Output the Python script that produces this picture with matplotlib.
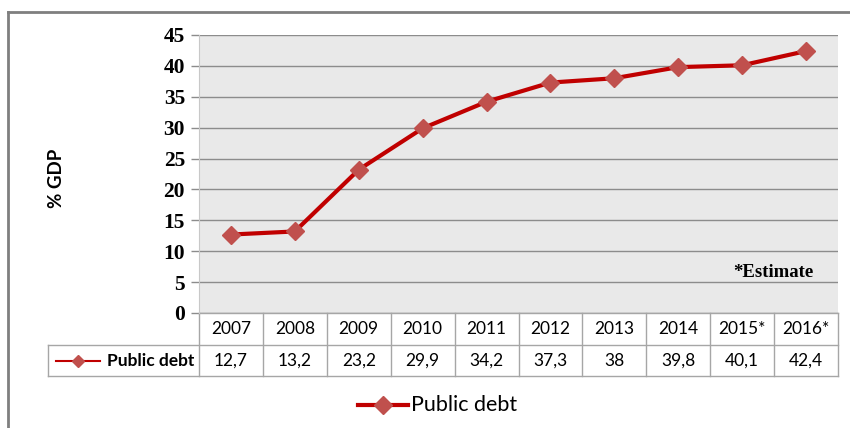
import matplotlib
matplotlib.use("Agg")
import matplotlib.pyplot as plt
from matplotlib.lines import Line2D
from matplotlib.transforms import blended_transform_factory

years = ["2007", "2008", "2009", "2010", "2011", "2012", "2013", "2014", "2015*", "2016*"]
public_debt = [12.7, 13.2, 23.2, 29.9, 34.2, 37.3, 38, 39.8, 40.1, 42.4]
series_name = "Public debt"
y_ticks = [0, 5, 10, 15, 20, 25, 30, 35, 40, 45]

LINE_C = "#C00000"
MARK_C = "#C0504D"
GRID_C = "#8C8C8C"
TABLE_C = "#A6A6A6"
SANS = ["Lato", "DejaVu Sans"]
SERIF = ["Liberation Serif", "DejaVu Serif"]

W, H = 850, 428
fig = plt.figure(figsize=(W / 100, H / 100), dpi=100)
fig.patch.set_facecolor("white")

L, R, T, B = 199, 838, 35, 313
ax = fig.add_axes([L / W, 1 - B / H, (R - L) / W, (B - T) / H])
ax.set_facecolor("#E9E9E9")
x = list(range(len(years)))
ax.set_xlim(-0.5, len(years) - 0.5)
ax.set_ylim(0, 45)
ax.set_yticks(y_ticks)
ax.set_yticklabels([str(v) for v in y_ticks], fontfamily=SERIF, fontweight="bold", fontsize=15.5)
ax.tick_params(axis="y", length=6, width=1, color=GRID_C, pad=4)
ax.set_xticks([])
for s in ["top", "right", "bottom"]:
    ax.spines[s].set_visible(False)
ax.spines["left"].set_color("#C8C8C8")
ax.grid(axis="y", color=GRID_C, linewidth=1)
ax.set_axisbelow(True)

ax.plot(x, public_debt, color=LINE_C, linewidth=3, marker="D", markersize=9,
        markerfacecolor=MARK_C, markeredgecolor=MARK_C, zorder=5, clip_on=False)

ax.text(0.961, 0.145, "*Estimate", transform=ax.transAxes, ha="right", va="center",
        fontfamily=SERIF, fontweight="bold", fontsize=13.5)

ax.set_ylabel("% GDP", fontfamily=SANS, fontweight="bold", fontsize=13.5)
ax.yaxis.set_label_coords((65 - L) / (R - L), 0.486)

# data table below the axes
tr = blended_transform_factory(ax.transData, ax.transAxes)
ph = B - T
r1 = -(345 - B) / ph
r2 = -(376 - B) / ph
colw = (R - L) / len(years)
xl = -0.5 - (L - 48) / colw
n = len(years)
kw = dict(transform=tr, color=TABLE_C, linewidth=1, clip_on=False)
ax.add_line(Line2D([xl, n - 0.5], [r1, r1], **kw))
ax.add_line(Line2D([xl, n - 0.5], [r2, r2], **kw))
ax.add_line(Line2D([-0.5, n - 0.5], [0, 0], **kw))
ax.add_line(Line2D([xl, xl], [r1, r2], **kw))
for i in range(n + 1):
    ax.add_line(Line2D([i - 0.5, i - 0.5], [0, r2], **kw))
for i, (yr, v) in enumerate(zip(years, public_debt)):
    ax.text(i, r1 / 2, yr, transform=tr, ha="center", va="center",
            fontfamily=SANS, fontsize=12.5, clip_on=False)
    ax.text(i, (r1 + r2) / 2, f"{v:g}".replace(".", ","), transform=tr, ha="center",
            va="center", fontfamily=SANS, fontsize=12.5, clip_on=False)
lx0 = -0.5 - (L - 56) / colw
lx1 = -0.5 - (L - 100) / colw
ax.add_line(Line2D([lx0, lx1], [(r1 + r2) / 2] * 2, transform=tr, color=LINE_C,
                   linewidth=1.5, clip_on=False))
ax.add_line(Line2D([(lx0 + lx1) / 2], [(r1 + r2) / 2], transform=tr, marker="D",
                   markersize=6, color=MARK_C, linestyle="none", clip_on=False))
ax.text(-0.5 - (L - 107) / colw, (r1 + r2) / 2, series_name, transform=tr, ha="left",
        va="center", fontfamily=SANS, fontweight="bold", fontsize=12.5, clip_on=False)

# legend at bottom
ly = 1 - 405 / H
fig.add_artist(Line2D([358 / W, 408 / W], [ly, ly], color=LINE_C, linewidth=3))
fig.add_artist(Line2D([383 / W], [ly], marker="D", markersize=9, color=MARK_C, linestyle="none"))
fig.text(411 / W, ly, series_name, ha="left", va="center", fontfamily=SANS, fontsize=15.5)

# outer frame
fig.add_artist(Line2D([8 / W, 1.0], [1 - 12 / H] * 2, color="#7F7F7F", linewidth=2))
fig.add_artist(Line2D([8 / W, 8 / W], [1 - 12 / H, 0], color="#7F7F7F", linewidth=2))

fig.savefig("out.png", dpi=100)
